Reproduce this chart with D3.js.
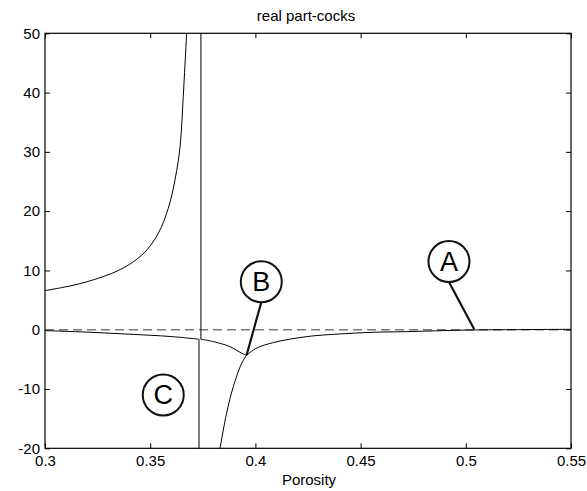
<!DOCTYPE html>
<html>
<head>
<meta charset="utf-8">
<script src="https://cdn.jsdelivr.net/npm/d3@7"></script>
<style>
  html, body { margin: 0; padding: 0; background: #fff; }
  svg { display: block; }
  text { font-family: "Liberation Sans", Arial, Helvetica, sans-serif; fill: #000; }
</style>
</head>
<body>
<svg id="chart" width="587" height="491"></svg>
<script>
// Axis settings
const xTicks = [0.3, 0.35, 0.4, 0.45, 0.5, 0.55];
const xTickLabels = ["0.3", "0.35", "0.4", "0.45", "0.5", "0.55"];
const yTicks = [-20, -10, 0, 10, 20, 30, 40, 50];
const yTickLabels = ["-20", "-10", "0", "10", "20", "30", "40", "50"];
const titleText = "real part-cocks";
const xLabelText = "Porosity";

// Branch rising to the asymptote on the left
const upperLeftX = [0.300, 0.3079, 0.3158, 0.3237, 0.3317, 0.3396, 0.3475, 0.3539, 0.3586, 0.3618, 0.3642, 0.3657, 0.3673, 0.3680];
const upperLeftY = [6.6, 7.1, 7.7, 8.5, 9.5, 10.9, 13.1, 16.3, 20.5, 25.3, 30.9, 39.3, 50.0, 55.0];

// Branch slightly below zero on the left
const lowerLeftX = [0.300, 0.320, 0.340, 0.360, 0.3732];
const lowerLeftY = [-0.15, -0.40, -0.75, -1.15, -1.60];

// Branch from the right-hand jump down to the cusp
const midX = [0.3741, 0.3800, 0.3879, 0.3935, 0.3958];
const midY = [-1.60, -2.00, -2.85, -3.97, -4.30];

// Branch from the cusp out to the right edge
const rightX = [0.3958, 0.4006, 0.4085, 0.4244, 0.4402, 0.4560, 0.4719, 0.500, 0.525, 0.550];
const rightY = [-4.30, -3.10, -2.17, -1.16, -0.71, -0.43, -0.32, -0.06, 0.02, 0.07];

// Branch falling from the cusp to the bottom
const fallX = [0.3825, 0.3832, 0.3863, 0.3895, 0.3935, 0.3958];
const fallY = [-21.5, -20.0, -14.1, -9.6, -5.65, -4.30];

// Vertical jumps (x position, start value, end value)
const jumpX = [0.3732, 0.3741];
const jumpFrom = [-1.60, 60];
const jumpTo = [-25, -1.60];

// Reference line
const refY = 0;

// Callout circles and the points their leaders mark
const calloutLabels = ["A", "B", "C"];
const calloutX = [0.492, 0.4028, 0.3562];
const calloutY = [11.5, 8.1, -11.0];
const targetX = [0.504, 0.3958, null];
const targetY = [0.08, -4.30, null];

const svg = d3.select("#chart");
const margin = { left: 45, right: 16, top: 33.3, bottom: 42.7 };
const W = 587, H = 491;
const x0 = margin.left, x1 = W - margin.right;
const y0 = margin.top, y1 = H - margin.bottom;

const x = d3.scaleLinear().domain([0.3, 0.55]).range([x0, x1]);
const y = d3.scaleLinear().domain([-20, 50]).range([y1, y0]);

svg.append("defs").append("clipPath").attr("id", "plot-clip")
  .append("rect").attr("x", x0).attr("y", y0).attr("width", x1 - x0).attr("height", y1 - y0);

// Title and axis label
svg.append("text").attr("x", 306).attr("y", 21).attr("text-anchor", "middle")
  .style("font-size", "15px").text(titleText);
svg.append("text").attr("x", 309).attr("y", 485).attr("text-anchor", "middle")
  .style("font-size", "15px").text(xLabelText);

// Axes with inward ticks on all four sides
function styleAxis(g, showLabels) {
  g.select(".domain").remove();
  g.selectAll(".tick line").attr("stroke", "#000").attr("stroke-width", 1);
  g.selectAll(".tick text").style("font-size", "15px").attr("fill", "#000");
  if (!showLabels) g.selectAll(".tick text").remove();
}
svg.append("g").attr("transform", `translate(0,${y1})`)
  .call(d3.axisBottom(x).tickValues(xTicks).tickFormat((d, i) => xTickLabels[i]).tickSize(-5).tickPadding(7))
  .call(g => styleAxis(g, true));
svg.append("g").attr("transform", `translate(0,${y0})`)
  .call(d3.axisTop(x).tickValues(xTicks).tickSize(-5))
  .call(g => styleAxis(g, false));
svg.append("g").attr("transform", `translate(${x0},0)`)
  .call(d3.axisLeft(y).tickValues(yTicks).tickFormat((d, i) => yTickLabels[i]).tickSize(-5).tickPadding(5))
  .call(g => styleAxis(g, true));
svg.append("g").attr("transform", `translate(${x1},0)`)
  .call(d3.axisRight(y).tickValues(yTicks).tickSize(-5))
  .call(g => styleAxis(g, false));

const plot = svg.append("g").attr("clip-path", "url(#plot-clip)");

// Dashed zero line
plot.append("line")
  .attr("x1", x(0.3)).attr("x2", x(0.55)).attr("y1", y(refY)).attr("y2", y(refY))
  .attr("stroke", "#7a7a7a").attr("stroke-width", 1.6).attr("stroke-dasharray", "9,5");

// Curve branches
const line = d3.line().x(d => x(d[0])).y(d => y(d[1])).curve(d3.curveCatmullRom.alpha(0.5));
const branches = [
  [upperLeftX, upperLeftY],
  [lowerLeftX, lowerLeftY],
  [midX, midY],
  [rightX, rightY],
  [fallX, fallY]
];
branches.forEach(([xs, ys]) => {
  const pts = xs.map((v, i) => [v, ys[i]]);
  plot.append("path").attr("d", line(pts))
    .attr("fill", "none").attr("stroke", "#000").attr("stroke-width", 1);
});
jumpX.forEach((v, i) => {
  plot.append("line")
    .attr("x1", x(v)).attr("x2", x(v)).attr("y1", y(jumpFrom[i])).attr("y2", y(jumpTo[i]))
    .attr("stroke", "#000").attr("stroke-width", 1);
});

// Plot frame
svg.append("rect").attr("x", x0).attr("y", y0).attr("width", x1 - x0).attr("height", y1 - y0)
  .attr("fill", "none").attr("stroke", "#000").attr("stroke-width", 1.2);

// Callouts
const r = 20.5;
calloutLabels.forEach((lab, i) => {
  const cx = x(calloutX[i]), cy = y(calloutY[i]);
  if (targetX[i] !== null) {
    svg.append("line")
      .attr("x1", cx).attr("y1", cy + r).attr("x2", x(targetX[i])).attr("y2", y(targetY[i]))
      .attr("stroke", "#111").attr("stroke-width", 2.2);
  }
  svg.append("circle").attr("cx", cx).attr("cy", cy).attr("r", r)
    .attr("fill", "#fff").attr("stroke", "#111").attr("stroke-width", 2);
  svg.append("text").attr("x", cx).attr("y", cy + 9.5).attr("text-anchor", "middle")
    .style("font-size", "27px").text(lab);
});
</script>
</body>
</html>
